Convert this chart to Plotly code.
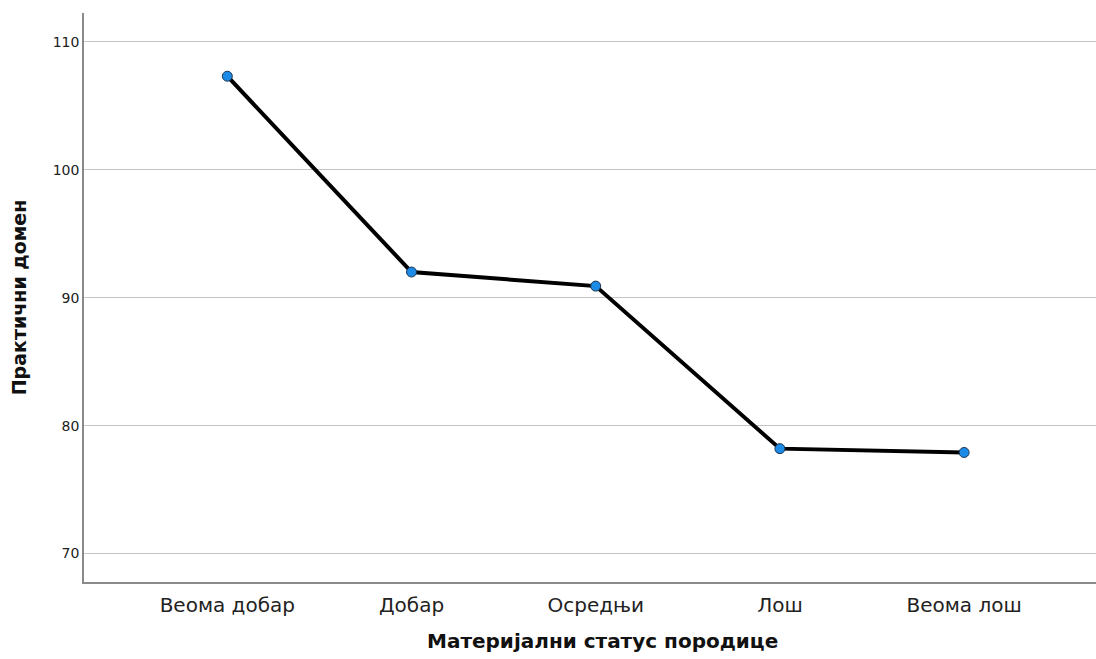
import plotly.graph_objects as go

# Data
status = ["Веома добар", "Добар", "Осредњи", "Лош", "Веома лош"]
domen = [107.3, 92.0, 90.9, 78.2, 77.9]
y_ticks = [70, 80, 90, 100, 110]

fig = go.Figure()
fig.add_trace(go.Scatter(
    x=status,
    y=domen,
    mode="lines+markers",
    line=dict(color="black", width=4),
    marker=dict(size=10, color="#1b8be6", line=dict(color="#1d3550", width=1)),
    showlegend=False,
))

fig.update_xaxes(
    range=[-0.778, 4.716],
    showline=True, linecolor="#8a8a8a", linewidth=1.5,
    showgrid=False, zeroline=False,
    ticks="", ticklabelstandoff=4,
    tickfont=dict(family="DejaVu Sans", size=20, color="#222"),
)
fig.update_yaxes(
    range=[67.78, 112.24],
    tickvals=y_ticks,
    showline=True, linecolor="#8a8a8a", linewidth=1.5,
    showgrid=True, gridcolor="#c4c4c4", gridwidth=1,
    zeroline=False, ticks="", ticklabelstandoff=0,
    tickfont=dict(family="DejaVu Sans", size=14, color="#222"),
    title=dict(text="<b>Практични домен</b>",
               font=dict(family="DejaVu Sans", size=19, color="#111"), standoff=21),
)

# x title as annotation, sits a bit right of the plot centre like the original
fig.add_annotation(
    text="<b>Материјални статус породице</b>",
    xref="paper", yref="paper", x=0.512, y=0, yshift=-59,
    showarrow=False, yanchor="middle",
    font=dict(family="DejaVu Sans", size=20, color="#111"),
)

fig.update_layout(
    width=1096, height=659,
    plot_bgcolor="white", paper_bgcolor="white",
    margin=dict(l=84, r=0, t=13, b=77),
)
# drop the default body margin so the figure fills the window
fig.write_html("out.html", config={"displayModeBar": False},
               post_script="document.body.style.margin='0';")
